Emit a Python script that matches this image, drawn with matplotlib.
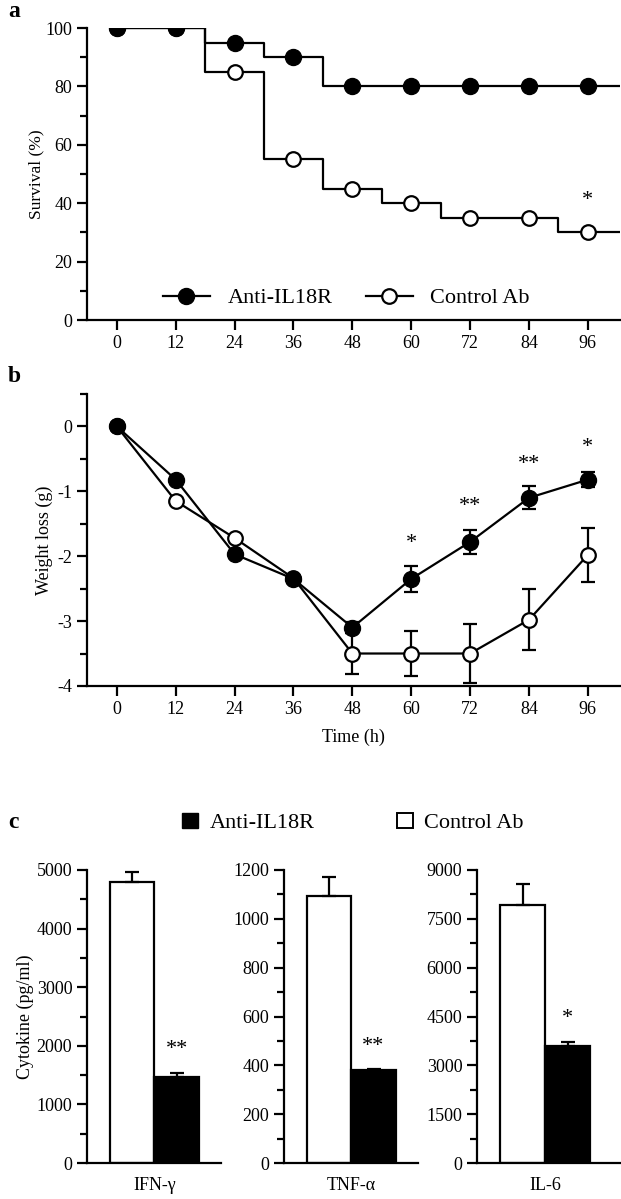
import matplotlib
matplotlib.use("Agg")
from matplotlib import pyplot as plt
from matplotlib.lines import Line2D
from matplotlib.patches import Patch
from matplotlib.ticker import MultipleLocator

plt.rcParams["font.family"] = ["Liberation Serif", "DejaVu Serif"]
plt.rcParams["mathtext.fontset"] = "stix"
plt.rcParams["axes.unicode_minus"] = False

# panel a: survival (%)
hours = [0, 12, 24, 36, 48, 60, 72, 84, 96]
anti_survival = [100, 100, 95, 90, 80, 80, 80, 80, 80]
ctrl_survival = [100, 100, 85, 55, 45, 40, 35, 35, 30]
anti_step_t = [0, 18, 30, 42, 102.5]
anti_step_v = [100, 95, 90, 80, 80]
ctrl_step_t = [0, 18, 30, 42, 54, 66, 90, 102.5]
ctrl_step_v = [100, 85, 55, 45, 40, 35, 30, 30]

# panel b: weight loss (g)
anti_weight = [0, -0.82, -1.97, -2.35, -3.1, -2.35, -1.78, -1.1, -0.82]
anti_weight_err = [0, 0, 0, 0, 0.08, 0.2, 0.19, 0.18, 0.12]
ctrl_weight = [0, -1.15, -1.72, -2.34, -3.5, -3.5, -3.5, -2.98, -1.98]
ctrl_weight_err = [0, 0, 0, 0, 0.31, 0.35, 0.45, 0.47, 0.42]
weight_marks = {60: "*", 72: "**", 84: "**", 96: "*"}
weight_mark_y = [-1.8, -1.23, -0.59, -0.33]

# panel c: cytokines (pg/ml)
cytokines = ["IFN-γ", "TNF-α", "IL-6"]
ctrl_cyto = [4800, 1092, 7910]
ctrl_cyto_err = [160, 78, 665]
anti_cyto = [1466, 379, 3600]
anti_cyto_err = [70, 8, 130]
cyto_marks = ["**", "**", "*"]
cyto_mark_y = [1930, 477, 4450]
cyto_ylim = [5000, 1200, 9000]
cyto_step = [1000, 200, 1500]

FS = 13
LW = 1.6


def style_axis(ax):
    for side in ["top", "right"]:
        ax.spines[side].set_visible(False)
    for side in ["left", "bottom"]:
        ax.spines[side].set_linewidth(LW)
    ax.tick_params(which="major", length=7, width=LW, labelsize=FS, direction="out")
    ax.tick_params(which="minor", length=5, width=LW, direction="out")


fig = plt.figure(figsize=(6.21, 11.99), dpi=100)

# ---- panel a
ax_a = fig.add_axes([0.140, 0.7331, 0.858, 0.2435])
ax_a.step(ctrl_step_t, ctrl_step_v, where="post", color="black", lw=LW)
ax_a.step(anti_step_t, anti_step_v, where="post", color="black", lw=LW)
ax_a.plot(hours, ctrl_survival, "o", ms=10.5, mfc="white", mec="black", mew=1.6, ls="none")
ax_a.plot(hours, anti_survival, "o", ms=11.5, color="black", ls="none")
ax_a.text(96, 41, "*", ha="center", va="center", fontsize=16)
ax_a.set_xlim(-6.1, 102.5)
ax_a.set_ylim(0, 100)
ax_a.set_xticks(hours)
ax_a.set_yticks([0, 20, 40, 60, 80, 100])
ax_a.yaxis.set_minor_locator(MultipleLocator(10))
ax_a.set_ylabel("Survival (%)", fontsize=12.5, labelpad=1)
style_axis(ax_a)
handles = [
    Line2D([], [], color="black", lw=LW, marker="o", ms=11.5),
    Line2D([], [], color="black", lw=LW, marker="o", ms=10.5, mfc="white", mew=1.6),
]
ax_a.legend(handles, ["Anti-IL18R", "Control Ab"], loc="center", bbox_to_anchor=(0.487, 0.075),
            ncol=2, frameon=False, fontsize=16, handlelength=2.1, handletextpad=0.8,
            columnspacing=1.5)
fig.text(0.013, 0.990, "a", fontsize=17, fontweight="bold", va="center")

# ---- panel b
ax_b = fig.add_axes([0.140, 0.4279, 0.858, 0.2435])
ax_b.errorbar(hours, ctrl_weight, yerr=ctrl_weight_err, color="black", lw=LW, marker="o",
              ms=10.5, mfc="white", mec="black", mew=1.6, capsize=5, elinewidth=LW, capthick=LW)
ax_b.errorbar(hours, anti_weight, yerr=anti_weight_err, color="black", lw=LW, marker="o",
              ms=11.5, capsize=5, elinewidth=LW, capthick=LW)
for (h, s), y in zip(weight_marks.items(), weight_mark_y):
    ax_b.text(h, y, s, ha="center", va="center", fontsize=16)
ax_b.set_xlim(-6.1, 102.5)
ax_b.set_ylim(-4, 0.5)
ax_b.set_xticks(hours)
ax_b.set_yticks([-4, -3, -2, -1, 0])
ax_b.yaxis.set_minor_locator(MultipleLocator(0.5))
ax_b.set_ylabel("Weight loss (g)", fontsize=13, labelpad=3)
ax_b.set_xlabel("Time (h)", fontsize=13, labelpad=8)
style_axis(ax_b)
fig.text(0.013, 0.686, "b", fontsize=17, fontweight="bold", va="center")

# ---- panel c
lefts = [0.140, 0.457, 0.768]
for i, name in enumerate(cytokines):
    ax = fig.add_axes([lefts[i], 0.030, 0.216 if i < 2 else 0.230, 0.2444])
    ax.bar([0], [ctrl_cyto[i]], width=1, color="white", edgecolor="black", lw=LW,
           yerr=[[0], [ctrl_cyto_err[i]]], error_kw=dict(lw=LW, capsize=5, capthick=LW))
    ax.bar([1], [anti_cyto[i]], width=1, color="black", edgecolor="black", lw=LW,
           yerr=[[0], [anti_cyto_err[i]]], error_kw=dict(lw=LW, capsize=5, capthick=LW))
    ax.text(1, cyto_mark_y[i], cyto_marks[i], ha="center", va="center", fontsize=16)
    ax.set_xlim(-1.02, 2.0 if i < 2 else 2.15)
    ax.set_ylim(0, cyto_ylim[i])
    ax.yaxis.set_major_locator(MultipleLocator(cyto_step[i]))
    ax.yaxis.set_minor_locator(MultipleLocator(cyto_step[i] / 2))
    ax.set_xticks([0.5])
    ax.set_xticklabels([name])
    style_axis(ax)
    ax.tick_params(axis="x", length=0, pad=10)
    if i == 0:
        ax.set_ylabel("Cytokine (pg/ml)", fontsize=13, labelpad=2)

fig.legend([Patch(facecolor="black", edgecolor="black"),
            Patch(facecolor="white", edgecolor="black", lw=1.4)],
           ["Anti-IL18R", "Control Ab"], loc="center", bbox_to_anchor=(0.568, 0.3136),
           ncol=2, frameon=False, fontsize=16, handlelength=0.72, handleheight=0.72,
           handletextpad=0.5, columnspacing=3.7)
fig.text(0.013, 0.3136, "c", fontsize=17, fontweight="bold", va="center")

fig.savefig("out.png", dpi=100)
